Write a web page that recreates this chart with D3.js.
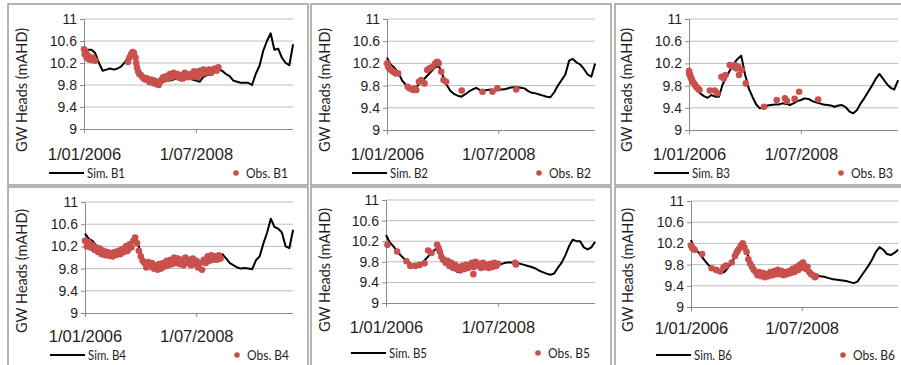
<!DOCTYPE html>
<html>
<head>
<meta charset="utf-8">
<script src="https://cdn.jsdelivr.net/npm/d3@7/dist/d3.min.js"></script>
<style>
  body { margin: 0; background: #fff; }
  svg { display: block; font-family: Lato, "Open Sans", sans-serif; }
</style>
</head>
<body>
<svg id="chart" width="901" height="365"></svg>
<script>
// bores shown, one per panel
const bores = ["B1", "B2", "B3", "B4", "B5", "B6"];
const yTicks = [9, 9.4, 9.8, 10.2, 10.6, 11];
const xTickDates = ["2006-01-01", "2008-07-01"];
const xTickLabels = ["1/01/2006", "1/07/2008"];
const startDate = "2006-01-01";
const endDate = "2010-09-01";

// simulated heads, one value per month from Jan 2006
const simB1 = [10.42, 10.44, 10.44, 10.38, 10.2, 10.06, 10.08, 10.1, 10.08, 10.1, 10.14, 10.22, 10.32, 10.4, 10.16, 9.96,
  9.9, 9.88, 9.82, 9.8, 9.78, 9.84, 9.9, 9.88, 9.9, 9.92, 9.88, 9.9, 9.92, 9.9, 9.88, 9.86, 9.95, 9.98, 10.0, 10.04,
  10.08, 10.06, 10.0, 9.96, 9.88, 9.86, 9.84, 9.84, 9.84, 9.8, 10.0, 10.15, 10.42, 10.6, 10.74, 10.44, 10.46, 10.3, 10.2, 10.16, 10.54];
const simB2 = [10.3, 10.18, 10.12, 10.04, 9.9, 9.82, 9.77, 9.75, 9.78, 9.86, 9.92, 9.99, 10.06, 10.13, 10.15, 9.98,
  9.82, 9.71, 9.65, 9.62, 9.6, 9.64, 9.69, 9.73, 9.76, 9.72, 9.71, 9.72, 9.73, 9.72, 9.73, 9.73, 9.74, 9.76, 9.77, 9.77,
  9.76, 9.75, 9.7, 9.67, 9.66, 9.64, 9.62, 9.6, 9.59, 9.68, 9.8, 9.9, 10.0, 10.25, 10.28, 10.22, 10.18, 10.1, 10.0, 9.96, 10.2];
const simB3 = [10.12, 9.87, 9.75, 9.66, 9.61, 9.58, 9.63, 9.6, 9.6, 9.82, 9.95, 10.08, 10.2, 10.28, 10.34, 10.0,
  9.75, 9.6, 9.46, 9.39, 9.4, 9.44, 9.45, 9.46, 9.46, 9.48, 9.47, 9.45, 9.48, 9.52, 9.54, 9.57, 9.56, 9.52, 9.5, 9.48,
  9.46, 9.45, 9.44, 9.42, 9.44, 9.45, 9.41, 9.33, 9.3, 9.36, 9.48, 9.58, 9.69, 9.8, 9.92, 10.01, 9.92, 9.83, 9.76, 9.73, 9.9];
const simB4 = [10.43, 10.34, 10.3, 10.22, 10.16, 10.1, 10.06, 10.04, 10.1, 10.12, 10.15, 10.18, 10.24, 10.32, 10.3, 10.08,
  9.9, 9.84, 9.82, 9.8, 9.77, 9.8, 9.84, 9.86, 9.88, 9.88, 9.9, 9.88, 9.89, 9.9, 9.9, 9.91, 9.93, 9.95, 9.97, 10.0,
  10.04, 10.06, 9.98, 9.9, 9.86, 9.82, 9.8, 9.81, 9.8, 9.79, 9.95, 10.02, 10.25, 10.45, 10.7, 10.55, 10.52, 10.45, 10.2, 10.17, 10.5];
const simB5 = [10.32, 10.18, 10.1, 10.0, 9.92, 9.85, 9.79, 9.74, 9.74, 9.76, 9.8, 9.88, 9.96, 10.03, 10.08, 9.95,
  9.8, 9.72, 9.66, 9.61, 9.59, 9.64, 9.68, 9.71, 9.72, 9.72, 9.72, 9.72, 9.72, 9.72, 9.72, 9.76, 9.78, 9.79, 9.78, 9.77,
  9.76, 9.74, 9.72, 9.7, 9.67, 9.63, 9.6, 9.57, 9.55, 9.57, 9.68, 9.78, 9.92, 10.1, 10.23, 10.2, 10.2, 10.08, 10.04, 10.08, 10.19];
const simB6 = [10.26, 10.1, 10.03, 9.94, 9.85, 9.77, 9.7, 9.66, 9.64, 9.66, 9.74, 9.84, 9.96, 10.1, 10.2, 10.05,
  9.86, 9.73, 9.65, 9.6, 9.58, 9.59, 9.61, 9.62, 9.62, 9.63, 9.64, 9.65, 9.66, 9.68, 9.71, 9.69, 9.66, 9.63, 9.6, 9.58,
  9.57, 9.55, 9.53, 9.52, 9.51, 9.5, 9.49, 9.47, 9.45, 9.48, 9.58, 9.68, 9.78, 9.9, 10.04, 10.13, 10.08, 10.0, 9.98, 10.02, 10.08];

// observed heads: [months since Jan 2006, head]
const obsB1 = [[0, 10.45], [0.2, 10.36], [0.5, 10.4], [0.7, 10.3], [1, 10.34], [1.3, 10.27], [1.6, 10.3], [2, 10.25],
  [2.3, 10.3], [2.6, 10.26], [3, 10.24],
  [11.8, 10.22], [12.2, 10.3], [12.6, 10.36], [13, 10.4], [13.4, 10.38], [13.8, 10.3], [14, 10.2], [14.2, 10.12],
  [14.5, 10.05], [14.8, 10.0], [15.2, 9.98], [15.6, 9.95], [16, 9.92], [16.4, 9.9], [16.8, 9.92], [17.2, 9.88],
  [17.6, 9.85], [18, 9.9], [18.4, 9.84], [18.8, 9.88], [19.2, 9.82], [19.6, 9.86], [20, 9.8], [20.4, 9.86], [20.8, 9.9],
  [21.2, 9.94], [21.6, 9.9], [22, 9.96], [22.5, 9.92], [23, 10.0], [23.5, 9.94], [24, 10.02], [24.5, 9.96], [25, 10.0],
  [25.5, 9.93], [26, 9.98], [26.5, 9.92], [27, 10.02], [27.5, 9.96], [28, 9.94], [28.5, 10.0], [29, 9.95], [29.5, 10.05],
  [30, 9.98], [30.5, 9.94], [31, 10.06], [31.5, 10.0], [32, 10.08], [32.5, 10.02], [33, 10.04], [33.5, 10.08], [34, 10.02],
  [34.5, 10.06], [35, 10.1], [35.5, 10.06], [36, 10.12]];
const obsB2 = [[0.1, 10.2], [0.3, 10.15], [0.5, 10.12], [0.8, 10.1], [1.1, 10.08], [1.5, 10.06], [1.9, 10.04], [2.4, 10.02],
  [3, 10.02], [5.6, 9.78], [6.1, 9.75], [7, 9.72], [7.4, 9.75], [7.9, 9.72], [8.6, 9.87], [9.2, 9.9], [10.1, 9.84],
  [10.8, 10.08], [11.4, 10.11], [12.3, 10.14], [13, 10.2], [13.5, 10.23], [13.9, 10.2], [14.6, 10.05], [15.2, 9.9],
  [15.9, 9.87], [20.1, 9.71], [25.7, 9.69], [28.4, 9.69], [29.7, 9.75], [34.8, 9.73]];
const obsB3 = [[0, 10.06], [0.1, 10.02], [0.2, 10.0], [0.4, 9.96], [0.6, 9.93], [0.8, 9.9], [1, 9.87], [1.3, 9.84],
  [1.6, 9.81], [1.9, 9.78], [2.2, 9.76], [2.5, 9.74], [2.8, 9.72], [5.6, 9.71], [6.9, 9.71], [7.6, 9.66], [8.7, 9.96],
  [9.3, 9.93], [9.8, 9.99], [10.9, 10.17], [11.6, 10.14], [12.3, 10.17], [12.7, 10.11], [13.2, 10.14], [13.4, 9.99],
  [14.1, 10.08], [15.2, 9.84], [20.1, 9.42], [23.5, 9.54], [25.7, 9.57], [26.2, 9.52], [28.3, 9.56], [29.5, 9.69], [34.6, 9.55]];
const obsB4 = [[0, 10.3], [0.5, 10.2], [1, 10.28], [1.5, 10.18], [2, 10.22], [2.5, 10.14], [3, 10.18], [3.5, 10.1],
  [4, 10.16], [4.5, 10.06], [5, 10.12], [5.5, 10.04], [6, 10.1], [6.5, 10.03], [7, 10.08], [7.5, 10.02], [8, 10.1],
  [8.5, 10.05], [9, 10.12], [9.5, 10.06], [10, 10.15], [10.5, 10.1], [11, 10.2], [11.5, 10.12], [12, 10.24], [12.5, 10.18],
  [13, 10.3], [13.5, 10.36], [14, 10.26], [14.5, 10.12], [15, 10.02], [15.5, 9.94], [16, 9.9], [16.5, 9.82], [17, 9.92],
  [17.5, 9.84], [18, 9.9], [18.5, 9.8], [19, 9.86], [19.5, 9.78], [20, 9.88], [20.5, 9.8], [21, 9.9], [21.5, 9.84],
  [22, 9.94], [22.5, 9.86], [23, 9.96], [23.5, 9.88], [24, 10.0], [24.5, 9.9], [25, 9.98], [25.5, 9.88], [26, 9.96],
  [26.5, 9.86], [27, 10.0], [27.5, 9.9], [28, 9.96], [28.5, 9.86], [29, 9.98], [29.5, 9.88], [30, 9.94], [30.5, 9.82],
  [31, 9.9], [31.5, 9.78], [32, 9.96], [32.5, 9.9], [33, 10.02], [33.5, 9.94], [34, 10.04], [34.5, 9.96], [35, 10.02],
  [35.5, 9.96], [36, 10.04], [36.5, 9.98]];
const obsB5 = [[0.4, 10.13], [3, 10.0], [5.5, 9.81], [6.5, 9.72], [7.9, 9.72], [9, 9.74], [10.3, 9.77], [11.3, 10.02],
  [12.2, 9.97], [13.7, 10.13], [14.1, 10.06], [14.4, 10.0], [14.8, 9.9], [15.3, 9.84], [15.5, 9.84], [16, 9.78],
  [16.5, 9.82], [17, 9.72], [17.5, 9.78], [18, 9.68], [18.5, 9.74], [19, 9.66], [19.5, 9.7], [20, 9.64], [20.5, 9.72],
  [21, 9.66], [21.5, 9.74], [22, 9.68], [22.5, 9.72], [23, 9.78], [23.4, 9.56], [23.5, 9.7], [24, 9.8], [24.5, 9.72],
  [25, 9.76], [25.5, 9.68], [26, 9.78], [26.5, 9.7], [27, 9.74], [27.5, 9.68], [28, 9.76], [28.5, 9.7], [29, 9.78],
  [29.5, 9.72], [30, 9.76], [34.6, 9.78], [34.8, 9.75]];
const obsB6 = [[0, 10.16], [0.3, 10.12], [0.6, 10.1], [1, 10.08], [3, 10.0], [5.6, 9.73], [6.8, 9.7], [7.9, 9.67],
  [8.8, 9.75], [9.5, 9.78], [11, 9.84], [11.9, 9.96], [12.3, 10.02], [12.6, 10.06], [13, 10.1], [13.5, 10.16], [14, 10.2],
  [14.5, 10.12], [15, 10.04], [15.5, 9.9], [16, 9.82], [16.5, 9.76], [17, 9.7], [17.5, 9.66], [18, 9.6], [18.5, 9.66],
  [19, 9.58], [19.5, 9.64], [20, 9.56], [20.5, 9.62], [21, 9.58], [21.5, 9.66], [22, 9.6], [22.5, 9.68], [23, 9.62],
  [23.5, 9.7], [24, 9.62], [24.5, 9.68], [25, 9.6], [25.5, 9.66], [26, 9.62], [26.5, 9.68], [27, 9.64], [27.5, 9.72],
  [28, 9.66], [28.5, 9.76], [29, 9.7], [29.5, 9.8], [30, 9.74], [30.3, 9.84], [30.6, 9.78], [31, 9.72], [31.5, 9.76],
  [32, 9.66], [32.5, 9.62], [33, 9.6], [33.5, 9.56], [33.8, 9.58]];

const simSeries = [simB1, simB2, simB3, simB4, simB5, simB6];
const obsSeries = [obsB1, obsB2, obsB3, obsB4, obsB5, obsB6];

// panel geometry (frame, plot edges, text rows)
const panels = [
  { frame: [8, 4, 308, 185], x0: 84, x1: 293, yTop: 19, yBot: 129, titleX: 22, titleY: 90, labY: 154, legY: 173 },
  { frame: [311, 4, 611, 185], x0: 387, x1: 595, yTop: 19, yBot: 130, titleX: 325, titleY: 90, labY: 154, legY: 173 },
  { frame: [615, 4, 902, 185], x0: 689, x1: 898, yTop: 19, yBot: 130, titleX: 627, titleY: 90, labY: 154, legY: 173 },
  { frame: [8, 187, 308, 367], x0: 85, x1: 293, yTop: 202, yBot: 313, titleX: 22, titleY: 271, labY: 336, legY: 355 },
  { frame: [311, 187, 611, 367], x0: 386, x1: 595, yTop: 200, yBot: 303, titleX: 325, titleY: 270, labY: 327, legY: 353 },
  { frame: [615, 187, 902, 367], x0: 691, x1: 898, yTop: 201, yBot: 307, titleX: 628, titleY: 270, labY: 328, legY: 355 }
];

const red = "#c9504c";
const ink = "#1e1e1e";
const parse = d3.timeParse("%Y-%m-%d");
const t0 = parse(startDate);
const monthDate = m => d3.timeDay.offset(t0, Math.round(m * 30.44));

const svg = d3.select("#chart");

panels.forEach((p, i) => {
  const g = svg.append("g");
  const x = d3.scaleTime().domain([t0, parse(endDate)]).range([p.x0, p.x1]);
  const y = d3.scaleLinear().domain([9, 11]).range([p.yBot, p.yTop]);

  g.append("rect")
    .attr("x", p.frame[0]).attr("y", p.frame[1])
    .attr("width", p.frame[2] - p.frame[0]).attr("height", p.frame[3] - p.frame[1])
    .attr("fill", "none").attr("stroke", "#9c9c9c").attr("stroke-width", 1.5);

  // gridlines
  g.selectAll(".grid").data(yTicks.slice(1)).enter().append("line")
    .attr("x1", p.x0).attr("x2", p.x1)
    .attr("y1", d => y(d)).attr("y2", d => y(d))
    .attr("stroke", "#bdbdbd").attr("stroke-width", 1);

  // y axis
  const yAxis = g.append("g").attr("transform", `translate(${p.x0},0)`)
    .call(d3.axisLeft(y).tickValues(yTicks).tickSize(4).tickPadding(3).tickFormat(d3.format("")));
  yAxis.select(".domain").attr("stroke", "#8a8a8a");
  yAxis.selectAll(".tick line").attr("stroke", "#8a8a8a");
  yAxis.selectAll("text").attr("fill", ink).style("font-size", "14px");

  // x axis
  const xAxis = g.append("g").attr("transform", `translate(0,${p.yBot})`)
    .call(d3.axisBottom(x).tickValues(xTickDates.map(parse)).tickSize(4)
      .tickFormat((d, k) => xTickLabels[k]));
  xAxis.select(".domain").attr("d", `M${p.x0},0.5H${p.x1}`).attr("stroke", "#8a8a8a");
  xAxis.selectAll(".tick line").attr("stroke", "#8a8a8a");
  xAxis.selectAll("text").attr("fill", ink).style("font-size", "16.5px")
    .attr("y", p.labY - p.yBot).attr("dy", "0.35em");

  g.append("text")
    .attr("transform", `translate(${p.titleX},${p.titleY}) rotate(-90)`)
    .attr("text-anchor", "middle").attr("dy", "0.35em")
    .attr("fill", ink).style("font-size", "14.5px")
    .text("GW Heads (mAHD)");

  const line = d3.line().x((d, k) => x(monthDate(k))).y(d => y(d));
  g.append("path").datum(simSeries[i])
    .attr("d", line).attr("fill", "none")
    .attr("stroke", "#000").attr("stroke-width", 2).attr("stroke-linejoin", "round");

  g.selectAll(".obs").data(obsSeries[i]).enter().append("circle")
    .attr("cx", d => x(monthDate(d[0]))).attr("cy", d => y(d[1]))
    .attr("r", 3.3).attr("fill", red);

  // legend (narrow face in the original, so the text is squeezed to its width)
  g.append("line")
    .attr("x1", p.x0 - 35).attr("x2", p.x0).attr("y1", p.legY).attr("y2", p.legY)
    .attr("stroke", "#000").attr("stroke-width", 2);
  g.append("text").attr("x", p.x0 + 3).attr("y", p.legY).attr("dy", "0.35em")
    .attr("fill", ink).style("font-size", "14px")
    .attr("textLength", 38).attr("lengthAdjust", "spacingAndGlyphs")
    .text("Sim. " + bores[i]);
  g.append("circle").attr("cx", p.x0 + 152).attr("cy", p.legY).attr("r", 2.8).attr("fill", red);
  g.append("text").attr("x", p.x0 + 162).attr("y", p.legY).attr("dy", "0.35em")
    .attr("fill", ink).style("font-size", "14px")
    .attr("textLength", 42).attr("lengthAdjust", "spacingAndGlyphs")
    .text("Obs. " + bores[i]);
});
</script>
</body>
</html>
